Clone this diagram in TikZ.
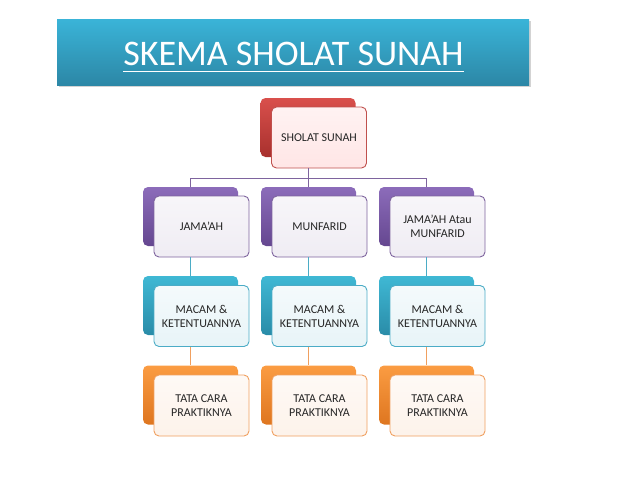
\documentclass[tikz,border=0pt]{standalone}
\usepackage{fontspec}
\setmainfont{Carlito}
\usepackage{tikz}
\usetikzlibrary{shadows}

\definecolor{redTop}{HTML}{D9504C}
\definecolor{redBot}{HTML}{A8302D}
\definecolor{redEdge}{HTML}{C0504D}
\definecolor{purTop}{HTML}{8C6CBA}
\definecolor{purBot}{HTML}{654790}
\definecolor{purEdge}{HTML}{7E649E}
\definecolor{aquTop}{HTML}{3FB8D4}
\definecolor{aquBot}{HTML}{2A8CA8}
\definecolor{aquEdge}{HTML}{4BACC6}
\definecolor{orgTop}{HTML}{FB9C42}
\definecolor{orgBot}{HTML}{DE7620}
\definecolor{orgEdge}{HTML}{F0A060}
\definecolor{bannerTop}{HTML}{3AB4D8}
\definecolor{bannerBot}{HTML}{2C87A6}
\definecolor{textGray}{HTML}{262626}

\begin{document}
\begin{tikzpicture}[x=1pt, y=-1pt,
  backbox/.style={rectangle, rounded corners=5pt, minimum width=95pt, minimum height=59pt, inner sep=0pt},
  frontbox/.style={rectangle, rounded corners=5pt, minimum width=95pt, minimum height=61pt, inner sep=2pt,
    line width=0.9pt, align=center, text=textGray, font=\fontsize{12}{14}\selectfont},
  redback/.style={backbox, top color=redTop, bottom color=redBot},
  redfront/.style={frontbox, draw=redEdge, top color=red!5, bottom color=red!10},
  purback/.style={backbox, top color=purTop, bottom color=purBot},
  purfront/.style={frontbox, draw=purEdge, top color=purEdge!6, bottom color=purEdge!12},
  aquback/.style={backbox, top color=aquTop, bottom color=aquBot},
  aqufront/.style={frontbox, draw=aquEdge, top color=aquEdge!6, bottom color=aquEdge!13},
  orgback/.style={backbox, top color=orgTop, bottom color=orgBot},
  orgfront/.style={frontbox, draw=orgEdge, top color=orgEdge!6, bottom color=orgEdge!13},
  link/.style={line width=0.8pt}]

  \useasboundingbox (0,0) rectangle (638,479);

  % judul
  \node[rectangle, minimum width=472pt, minimum height=66pt, top color=bannerTop, bottom color=bannerBot,
    drop shadow={shadow xshift=1.5pt, shadow yshift=-2pt, opacity=0.35}] (banner) at (293,52) {};
  \node[inner sep=0pt, text=white, font=\fontsize{36}{38}\selectfont] (title) at (293.5,54) {SKEMA SHOLAT SUNAH};
  \draw[white, line width=1.6pt] ([yshift=-6pt]title.base west) -- ([yshift=-6pt]title.base east);

  % puncak
  \node[redback] (b-sunah) at (308,127.5) {};
  \node[redfront] (f-sunah) at (319,137.5) {SHOLAT SUNAH};

  % baris 1
  \node[purback] (b-jamaah) at (190.5,216.5) {};
  \node[purfront] (f-jamaah) at (201.5,226.5) {JAMA'AH};
  \node[purback] (b-munfarid) at (308.5,216.5) {};
  \node[purfront] (f-munfarid) at (319.5,226.5) {MUNFARID};
  \node[purback] (b-atau) at (426.5,216.5) {};
  \node[purfront] (f-atau) at (437.5,226.5) {JAMA'AH Atau\\MUNFARID};

  % baris 2
  \node[aquback] (b-macam1) at (190.5,305.5) {};
  \node[aqufront] (f-macam1) at (201.5,316) {MACAM \&\\KETENTUANNYA};
  \node[aquback] (b-macam2) at (308.5,305.5) {};
  \node[aqufront] (f-macam2) at (319.5,316) {MACAM \&\\KETENTUANNYA};
  \node[aquback] (b-macam3) at (426.5,305.5) {};
  \node[aqufront] (f-macam3) at (437.5,316) {MACAM \&\\KETENTUANNYA};

  % baris 3
  \node[orgback] (b-tata1) at (190.5,395) {};
  \node[orgfront] (f-tata1) at (201.5,405.5) {TATA CARA\\PRAKTIKNYA};
  \node[orgback] (b-tata2) at (308.5,395) {};
  \node[orgfront] (f-tata2) at (319.5,405.5) {TATA CARA\\PRAKTIKNYA};
  \node[orgback] (b-tata3) at (426.5,395) {};
  \node[orgfront] (f-tata3) at (437.5,405.5) {TATA CARA\\PRAKTIKNYA};

  % garis
  \coordinate (bus) at (0,178);
  \draw[link, purEdge] (b-sunah |- f-sunah.south) -- (b-sunah |- bus);
  \draw[link, purEdge] (b-jamaah.north) -- (b-jamaah |- bus) -- (b-atau |- bus) -- (b-atau.north);
  \draw[link, purEdge] (b-munfarid |- bus) -- (b-munfarid.north);

  \draw[link, aquEdge] (b-jamaah |- f-jamaah.south) -- (b-macam1.north);
  \draw[link, aquEdge] (b-munfarid |- f-munfarid.south) -- (b-macam2.north);
  \draw[link, aquEdge] (b-atau |- f-atau.south) -- (b-macam3.north);

  \draw[link, orgEdge] (b-macam1 |- f-macam1.south) -- (b-tata1.north);
  \draw[link, orgEdge] (b-macam2 |- f-macam2.south) -- (b-tata2.north);
  \draw[link, orgEdge] (b-macam3 |- f-macam3.south) -- (b-tata3.north);

\end{tikzpicture}
\end{document}
